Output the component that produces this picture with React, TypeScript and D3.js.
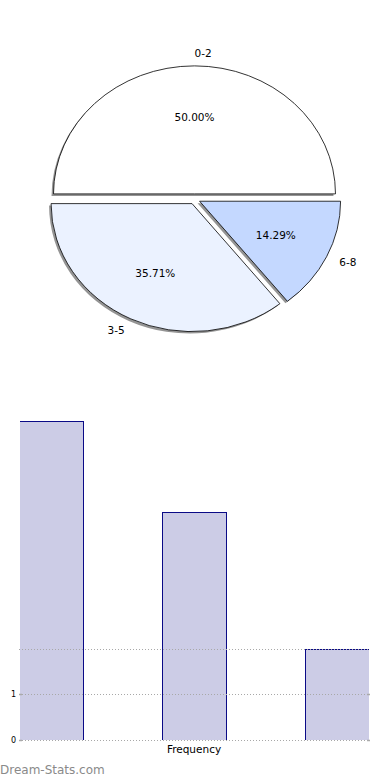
import React from "react";
import * as d3 from "d3";

const categories = ["0-2", "3-5", "6-8"];
const frequencies = [7, 5, 2];
const pieColors = ["#ffffff", "#ebf2ff", "#c4d8ff"];
const gridValues = [0, 1, 2];
const tickLabels = [0, 1];

const W = 390;
const H = 780;

export default function App() {
  // Pie (elliptical, exploded, with shadow)
  const cx = 194.5;
  const cy = 199;
  const rx = 141;
  const ry = 128;
  const explode = 0.04;
  const total = d3.sum(frequencies);
  // Start at left (-PI/2 in d3 terms), clockwise: 0-2 (top half), 6-8, then 3-5.
  const order = [0, 2, 1];
  const arcsRaw = d3
    .pie<number>()
    .sort(null)
    .startAngle(-Math.PI / 2)
    .endAngle((3 * Math.PI) / 2)
    .value((d) => d)(order.map((k) => frequencies[k]));
  const arcs = arcsRaw.map((a, i) => ({ ...a, idx: order[i] }));

  const arcGen = d3.arc<any>().innerRadius(0).outerRadius(1);

  const sliceParts = arcs.map((a) => {
    const mid = (a.startAngle + a.endAngle) / 2;
    const ux = Math.sin(mid);
    const uy = -Math.cos(mid);
    const ox = cx + explode * rx * ux;
    const oy = cy + explode * ry * uy;
    const path = arcGen({ startAngle: a.startAngle, endAngle: a.endAngle }) as string;
    const pct = (a.value / total) * 100;
    const lx = ox + 1.1 * rx * ux;
    const ly = oy + 1.1 * ry * uy;
    const px = ox + 0.6 * rx * ux;
    const py = oy + 0.6 * ry * uy;
    return { a, ox, oy, path, pct, lx, ly, px, py, ux };
  });

  // Bar chart
  const x = d3
    .scaleBand<string>()
    .domain(categories)
    .range([19.5, 369.5])
    .paddingInner(79 / 143)
    .paddingOuter(0);
  const y = d3.scaleLinear().domain([0, 7]).range([740, 421]);
  const py0 = (v: number) => Math.round(y(v)) + 0.5;

  const fontFam = "DejaVu Sans, sans-serif";

  return (
    <svg width={W} height={H} style={{ position: "absolute", left: 0, top: 0 }} fontFamily={fontFam}>
      <rect width={W} height={H} fill="#ffffff" />
      <defs>
        <clipPath id="plotClip">
          <rect x={20} y={380} width={349} height={360} />
        </clipPath>
      </defs>
      {/* shadows */}
      {sliceParts.map((s, i) => (
        <path
          key={"sh" + i}
          d={s.path}
          transform={`translate(${s.ox - 2},${s.oy + 2}) scale(${rx},${ry})`}
          fill="#000"
          fillOpacity={0.42}
          stroke="none"
        />
      ))}
      {sliceParts.map((s, i) => (
        <path
          key={"sl" + i}
          d={s.path}
          transform={`translate(${s.ox},${s.oy}) scale(${rx},${ry})`}
          fill={pieColors[s.a.idx]}
          stroke="#000"
          strokeWidth={0.8}
          vectorEffect="non-scaling-stroke"
          strokeLinejoin="round"
        />
      ))}
      {sliceParts.map((s, i) => (
        <text
          key={"lb" + i}
          x={s.lx}
          y={s.ly}
          fontSize={10.5}
          dominantBaseline="central"
          textAnchor={s.ux >= -1e-9 ? "start" : "end"}
          fill="#000"
        >
          {categories[s.a.idx]}
        </text>
      ))}
      {sliceParts.map((s, i) => (
        <text
          key={"pc" + i}
          x={s.px}
          y={s.py}
          fontSize={10.5}
          dominantBaseline="central"
          textAnchor="middle"
          fill="#000"
        >
          {s.pct.toFixed(2) + "%"}
        </text>
      ))}

      <g clipPath="url(#plotClip)">
        {categories.map((c, i) => (
          <rect
            key={"b" + c}
            x={x(c)}
            y={py0(frequencies[i])}
            width={x.bandwidth()}
            height={y(0) + 4 - py0(frequencies[i])}
            fill="#ccccE6"
            stroke="#0a0a86"
            strokeWidth={1}
          />
        ))}
      </g>
      {/* Bar chart gridlines (drawn over bars) */}
      {gridValues.map((v) => (
        <line
          key={"g" + v}
          x1={19}
          x2={370}
          y1={py0(v)}
          y2={py0(v)}
          stroke="#a8a8a8"
          strokeWidth={1}
          strokeDasharray="1,2"
        />
      ))}
      {tickLabels.map((v) => (
        <g key={"t" + v}>
          <line x1={19} x2={22} y1={py0(v)} y2={py0(v)} stroke="#aaaaaa" strokeWidth={1.5} />
          <line x1={367} x2={370} y1={py0(v)} y2={py0(v)} stroke="#aaaaaa" strokeWidth={1.5} />
          <text x={16} y={y(v)} fontSize={8} textAnchor="end" dominantBaseline="central" fill="#000">
            {v}
          </text>
        </g>
      ))}
      <text x={194} y={749} fontSize={10.5} textAnchor="middle" dominantBaseline="central" fill="#000">
        Frequency
      </text>
      <text x={0} y={770} fontSize={12} dominantBaseline="central" fill="#8a8a8a">
        Dream-Stats.com
      </text>
    </svg>
  );
}
